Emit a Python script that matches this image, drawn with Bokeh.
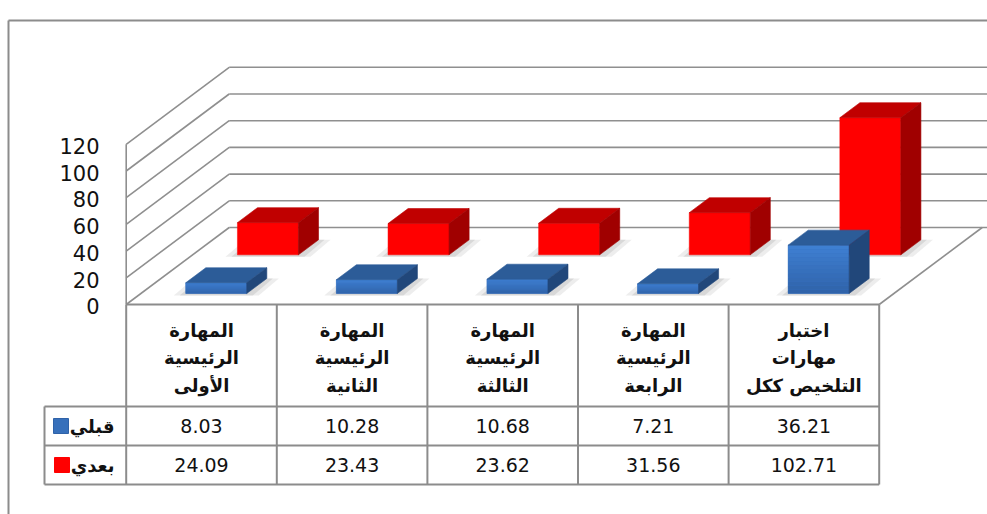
import numpy as np
from bokeh.plotting import figure
from bokeh.models import Range1d
from bokeh.embed import file_html
from bokeh.resources import INLINE
from bokeh.core.properties import value

# ---------------- data ----------------
categories = [
    ["المهارة", "الرئيسية", "الأولى"],
    ["المهارة", "الرئيسية", "الثانية"],
    ["المهارة", "الرئيسية", "الثالثة"],
    ["المهارة", "الرئيسية", "الرابعة"],
    ["اختبار", "مهارات", "التلخيص ككل"],
]
series_names = ["قبلي", "بعدي"]
before = [8.03, 10.28, 10.68, 7.21, 36.21]
after = [24.09, 23.43, 23.62, 31.56, 102.71]
value_labels_before = ["8.03", "10.28", "10.68", "7.21", "36.21"]
value_labels_after = ["24.09", "23.43", "23.62", "31.56", "102.71"]
ticks = [0, 20, 40, 60, 80, 100, 120]

# ---------------- layout (pixel geometry of the pseudo-3D projection) ----------------
PAGE = 0
W, H = 987, 514
X0, CW = 201.0, 150.6      # screen x of category 0 centre (front), px per category
Y0, VS = 304.0, 1.335      # screen y of value 0 (front), px per value unit
DEPTH_PX = (103.0, 77.0)   # floor depth in px (right, up)

def cx(px):  # screen px -> category units
    return (px - X0) / CW

def vy(py):  # screen px -> value units
    return (Y0 - py) / VS

DC = DEPTH_PX[0] / CW
DV = DEPTH_PX[1] / VS

p = figure(width=W, height=H, output_backend="svg", toolbar_location=None,
           x_range=Range1d(cx(PAGE), cx(PAGE + W)),
           y_range=Range1d(vy(PAGE + H), vy(PAGE)),
           x_axis_location=None, y_axis_location=None, min_border=0)
p.grid.visible = False
p.outline_line_color = None
p.background_fill_color = "white"

GRID = "#8f8f8f"
n = len(categories)
left_c = -0.5
right_c = n - 0.5

# outer chart frame
p.line([cx(8), cx(8)], [vy(20), vy(PAGE + H)], line_color="#8c8c8c", line_width=2)
p.line([cx(8), cx(PAGE + W)], [vy(20), vy(20)], line_color="#8c8c8c", line_width=2)

# walls: left wall verticals + diagonals, back-wall gridlines
p.line([left_c, left_c], [0, ticks[-1]], line_color=GRID, line_width=1.6)
for t in ticks:
    p.line([left_c, left_c + DC], [t, t + DV], line_color=GRID, line_width=1.6)
    p.line([left_c + DC, cx(PAGE + W)], [t + DV, t + DV], line_color=GRID, line_width=1.6)
# floor right edge
p.line([right_c, right_c + DC], [0, DV], line_color=GRID, line_width=1.6)

# tick labels
p.text(x=[cx(99)] * len(ticks), y=[t - 1.3 for t in ticks], text=[str(t) for t in ticks],
       text_align="right", text_baseline="middle", text_font=value("DejaVu Sans"),
       text_font_size="21px", text_color="#111111")

# ---------------- bars ----------------
half_w = 30.5 / CW
bar_depth = 0.195

def hexmix(c1, c2, f):
    a = np.array([int(c1[i:i + 2], 16) for i in (1, 3, 5)], float)
    b = np.array([int(c2[i:i + 2], 16) for i in (1, 3, 5)], float)
    m = a + (b - a) * f
    return "#%02x%02x%02x" % tuple(int(round(x)) for x in m)

def draw_series(vals, t1, front_top, front_bot, top_col, side_col):
    v0 = t1 * DV
    xs_off = t1 * DC
    ddc, ddv = bar_depth * DC, bar_depth * DV
    # shadows
    for grow, alpha in ((12, 0.18), (6, 0.25)):
        sxs, sys = [], []
        for i, v in enumerate(vals):
            xl = i + xs_off - half_w - grow / CW
            xr = i + xs_off + half_w + grow / CW
            sxs.append([xl, xr, xr + ddc, xl + ddc])
            sys.append([v0 - 2 / VS, v0 - 2 / VS, v0 + ddv, v0 + ddv])
        p.patches(sxs, sys, fill_color="#9a9a9a", fill_alpha=alpha, line_color=None)
    for i, v in enumerate(vals):
        xl = i + xs_off - half_w
        xr = i + xs_off + half_w
        # front face: base + vertical gradient strips
        midcol = hexmix(front_bot, front_top, 0.5)
        p.quad(left=[xl], right=[xr], bottom=[v0], top=[v0 + v],
               fill_color=midcol, line_color=midcol, line_width=0.5)
        if front_top != front_bot:
            nstrip = 12
            edges = np.linspace(v0, v0 + v, nstrip + 1)
            cols = [hexmix(front_bot, front_top, (k + 0.5) / nstrip) for k in range(nstrip)]
            p.quad(left=[xl] * nstrip, right=[xr] * nstrip, bottom=edges[:-1], top=edges[1:],
                   fill_color=cols, line_color=None)
        # top face
        p.patch([xl, xr, xr + ddc, xl + ddc], [v0 + v, v0 + v, v0 + v + ddv, v0 + v + ddv],
                fill_color=top_col, line_color=top_col, line_width=0.6)
        # side face
        p.patch([xr, xr + ddc, xr + ddc, xr], [v0, v0 + ddv, v0 + v + ddv, v0 + v],
                fill_color=side_col, line_color=side_col, line_width=0.6)

draw_series(after, 0.645, "#ff0000", "#ff0000", "#c00000", "#a00000")
draw_series(before, 0.143, "#3f80d3", "#2f62a8", "#2c5c98", "#21477a")

# ---------------- data table ----------------
TAB = "#8c8c8c"
row_h = vy(406), vy(445), vy(484)
leg_left = cx(44)
p.line([left_c, right_c], [0, 0], line_color=TAB, line_width=2)
for r in row_h:
    p.line([leg_left, right_c], [r, r], line_color=TAB, line_width=2)
for k in range(n + 1):
    p.line([left_c + k, left_c + k], [0, row_h[2]], line_color=TAB, line_width=2)
p.line([leg_left, leg_left], [row_h[0], row_h[2]], line_color=TAB, line_width=2)

# header text
line_step = 27.5 / VS
hx, hy, ht = [], [], []
mid = vy(357)
for i, lines in enumerate(categories):
    for j, s in enumerate(lines):
        hx.append(i)
        hy.append(mid + (1 - j) * line_step)
        ht.append(s)
p.text(x=hx, y=hy, text=ht, text_align="center", text_baseline="middle",
       text_font=value("DejaVu Sans"), text_font_style="bold", text_font_size="18px",
       text_color="#111111")

# values
r1 = (row_h[0] + row_h[1]) / 2
r2 = (row_h[1] + row_h[2]) / 2
p.text(x=list(range(n)), y=[r1] * n, text=value_labels_before, text_align="center",
       text_baseline="middle", text_font=value("DejaVu Sans"), text_font_size="19px",
       text_color="#111111")
p.text(x=list(range(n)), y=[r2] * n, text=value_labels_after, text_align="center",
       text_baseline="middle", text_font=value("DejaVu Sans"), text_font_size="19px",
       text_color="#111111")

# legend keys
p.quad(left=[cx(53)], right=[cx(68)], bottom=[r1 - 7.5 / VS], top=[r1 + 7.5 / VS],
       fill_color="#3770bb", line_color="#2f62a8")
p.quad(left=[cx(54)], right=[cx(69)], bottom=[r2 - 7.5 / VS], top=[r2 + 7.5 / VS],
       fill_color="#ff0000", line_color="#ff0000")
p.text(x=[cx(114)] * 2, y=[r1, r2], text=series_names, text_align="right",
       text_baseline="middle", text_font=value("DejaVu Sans"), text_font_style="bold",
       text_font_size="18px", text_color="#111111")

open("out.html", "w").write(file_html(p, INLINE))
